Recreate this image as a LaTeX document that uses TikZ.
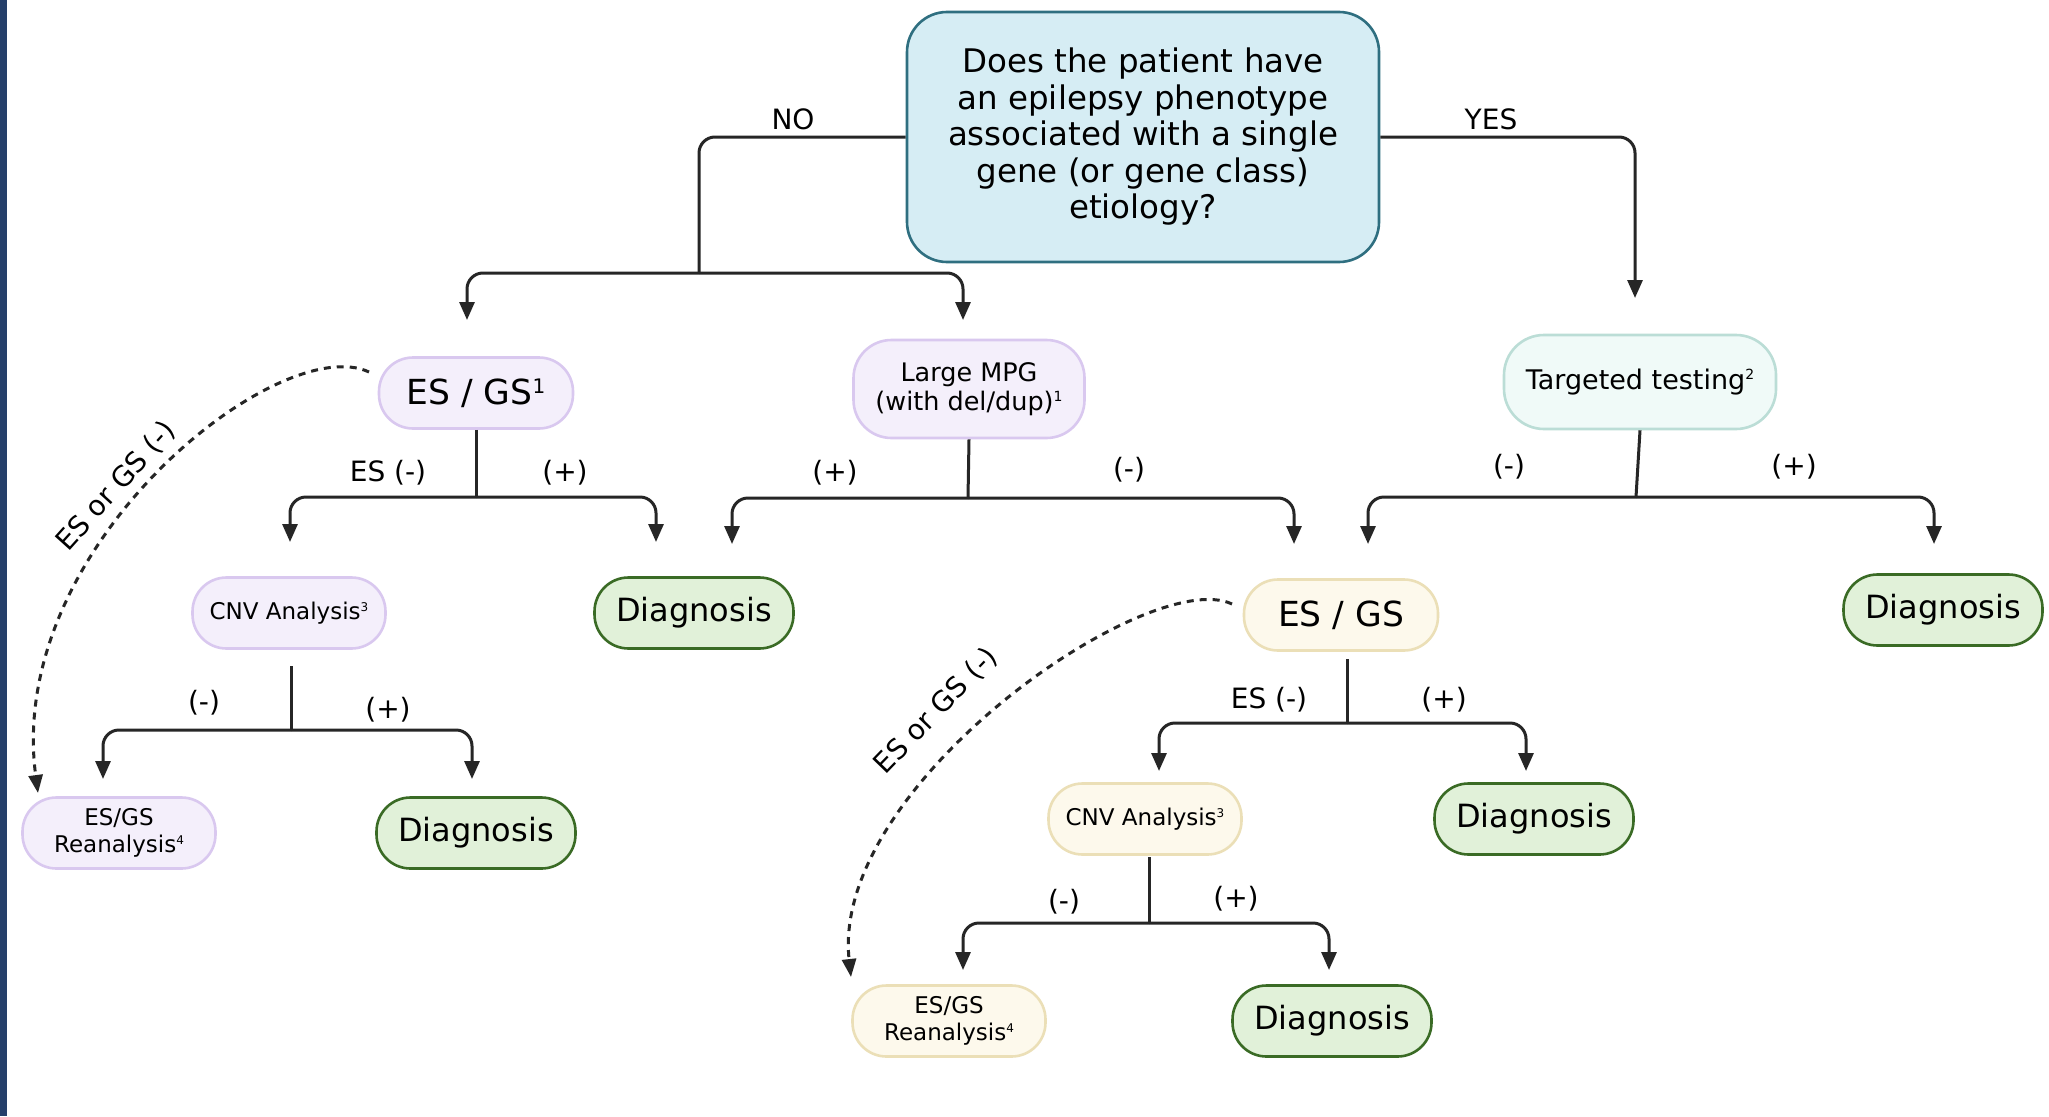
\documentclass[tikz,border=0pt]{standalone}
\usepackage{fontspec}
\setmainfont{DejaVu Sans}
\usetikzlibrary{arrows.meta}
\definecolor{barC}{HTML}{253F6A}
\definecolor{qF}{HTML}{D6EDF4}
\definecolor{qD}{HTML}{2F6F80}
\definecolor{pF}{HTML}{F4EFFB}
\definecolor{pD}{HTML}{D9C8EF}
\definecolor{tF}{HTML}{F0FAF8}
\definecolor{tD}{HTML}{BBDDD6}
\definecolor{gF}{HTML}{E1F1D9}
\definecolor{gD}{HTML}{3A6B25}
\definecolor{yF}{HTML}{FDF9EC}
\definecolor{yD}{HTML}{EBDFB7}
\definecolor{lnC}{HTML}{262626}
\newcommand\supx[3]{\raisebox{#2pt}{\fontsize{#1pt}{#1pt}\selectfont #3}}
\begin{document}
\begin{tikzpicture}[x=1pt,y=-1pt,
  box/.style={draw, line width=2.6pt, align=center, inner sep=0pt, text=black},
  qbox/.style={box, fill=qF, draw=qD, rounded corners=40pt, minimum width=472pt, minimum height=250pt, font=\fontsize{32.5}{36.5}\selectfont},
  pbox/.style={box, fill=pF, draw=pD},
  tbox/.style={box, fill=tF, draw=tD},
  ybox/.style={box, fill=yF, draw=yD},
  gbox/.style={box, fill=gF, draw=gD, rounded corners=34pt, minimum width=199pt, minimum height=71pt, font=\fontsize{32}{36}\selectfont},
  big/.style={rounded corners=34pt, minimum width=194pt, minimum height=71pt, font=\fontsize{34.5}{38}\selectfont},
  small/.style={rounded corners=34pt, minimum width=193pt, minimum height=71pt, font=\fontsize{23}{27}\selectfont},
  conn/.style={draw=lnC, line width=3pt, rounded corners=16pt},
  arr/.style={conn, -{Triangle[length=18pt,width=15pt]}},
  dotarr/.style={draw=lnC, line width=3pt, dash pattern=on 7pt off 6pt, -{Triangle[length=18pt,width=14pt]}},
  lab/.style={font=\fontsize{28}{32}\selectfont, text=black, inner sep=0pt}
]
\useasboundingbox (0,0) rectangle (2049,1116);
\fill[white] (0,0) rectangle (2049,1116);
\fill[barC] (0,0) rectangle (7,1116);

% nodes
\node[qbox] (q) at (1143,137) {Does the patient have\\an epilepsy phenotype\\associated with a single\\gene (or gene class)\\etiology?};
\node[pbox, big] (esgs1) at (476,393) {ES / GS\supx{20}{10.5}{1}};
\node[pbox, rounded corners=38pt, minimum width=231pt, minimum height=98pt, font=\fontsize{25.5}{29}\selectfont] (mpg) at (969,389) {Large MPG\\(with del/dup)\supx{14}{8.5}{1}};
\node[tbox, rounded corners=40pt, minimum width=272pt, minimum height=94pt, font=\fontsize{27}{31}\selectfont] (tt) at (1640,382) {Targeted testing\supx{14}{9.5}{2}};
\node[pbox, small] (cnv1) at (289,613) {CNV Analysis\supx{12}{8}{3}};
\node[gbox] (d1) at (694,613) {Diagnosis};
\node[pbox, small] (re1) at (119,833) {ES/GS\\Reanalysis\supx{12}{8}{4}};
\node[gbox] (d2) at (476,833) {Diagnosis};
\node[ybox, big] (esgs2) at (1341,615) {ES / GS};
\node[gbox] (d3) at (1943,610) {Diagnosis};
\node[ybox, small] (cnv2) at (1145,819) {CNV Analysis\supx{12}{8}{3}};
\node[gbox] (d4) at (1534,819) {Diagnosis};
\node[ybox, small] (re2) at (949,1021) {ES/GS\\Reanalysis\supx{12}{8}{4}};
\node[gbox] (d5) at (1332,1021) {Diagnosis};

% NO / YES
\coordinate (nob) at (699,273);
\coordinate (noL) at (467,320);
\coordinate (noR) at (963,320);
\coordinate (yesT) at (1635,298);
\draw[conn] (q.west) -| (nob);
\draw[arr] (nob) -| (noL);
\draw[arr] (nob) -| (noR);
\draw[arr] (q.east) -| (yesT);
\node[lab] (lno) at (793,119) {NO};
\node[lab] (lyes) at (1491,119) {YES};

% ES/GS1 branch
\coordinate (b1) at (476,497);
\coordinate (b1L) at (290,542);
\coordinate (b1R) at (656,542);
\draw[conn] (esgs1.south) -- (b1);
\draw[arr] (b1) -| (b1L);
\draw[arr] (b1) -| (b1R);
\node[lab] (l1) at (388,473) {ES (-)};
\node[lab] (l2) at (565,473) {(+)};

% MPG branch
\coordinate (b2) at (968,498);
\coordinate (b2L) at (732,544);
\coordinate (b2R) at (1294,544);
\draw[conn] (mpg.south) -- (b2);
\draw[arr] (b2) -| (b2L);
\draw[arr] (b2) -| (b2R);
\node[lab] (l3) at (835,473) {(+)};
\node[lab] (l4) at (1129,470) {(-)};

% Targeted branch
\coordinate (b3) at (1636,497);
\coordinate (b3L) at (1368,544);
\coordinate (b3R) at (1934,544);
\draw[conn] (tt.south) -- (b3);
\draw[arr] (b3) -| (b3L);
\draw[arr] (b3) -| (b3R);
\node[lab] (l5) at (1509,467) {(-)};
\node[lab] (l6) at (1794,467) {(+)};

% CNV1 branch
\coordinate (s4) at (291,666);
\coordinate (b4) at (291,730);
\coordinate (b4L) at (103,779);
\coordinate (b4R) at (472,779);
\draw[conn] (s4) -- (b4);
\draw[arr] (b4) -| (b4L);
\draw[arr] (b4) -| (b4R);
\node[lab] (l7) at (204,703) {(-)};
\node[lab] (l8) at (388,710) {(+)};

% ES/GS2 branch
\coordinate (s5) at (1347,659);
\coordinate (b5) at (1347,723);
\coordinate (b5L) at (1159,771);
\coordinate (b5R) at (1526,771);
\draw[conn] (s5) -- (b5);
\draw[arr] (b5) -| (b5L);
\draw[arr] (b5) -| (b5R);
\node[lab] (l9) at (1269,700) {ES (-)};
\node[lab] (l10) at (1444,700) {(+)};

% CNV2 branch
\coordinate (s6) at (1149,857);
\coordinate (b6) at (1149,923);
\coordinate (b6L) at (963,970);
\coordinate (b6R) at (1329,970);
\draw[conn] (s6) -- (b6);
\draw[arr] (b6) -| (b6L);
\draw[arr] (b6) -| (b6R);
\node[lab] (l11) at (1064,902) {(-)};
\node[lab] (l12) at (1236,899) {(+)};

% dashed curves
\coordinate (c1s) at (369,372);
\coordinate (c1e) at (38,793);
\draw[dotarr] (c1s) .. controls (280,330) and (5,545) .. (c1e);
\node[lab, rotate=48] (l13) at (116,486) {ES or GS (-)};
\coordinate (c2s) at (1232,604);
\coordinate (c2e) at (851,977);
\draw[dotarr] (c2s) .. controls (1150,565) and (830,785) .. (c2e);
\node[lab, rotate=46] (l14) at (936,711) {ES or GS (-)};
\end{tikzpicture}
\end{document}
